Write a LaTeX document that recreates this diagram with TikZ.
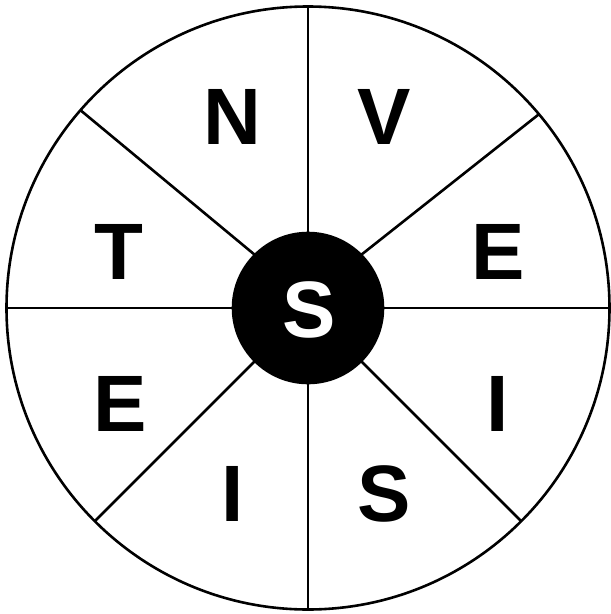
\documentclass[tikz,border=0pt]{standalone}
\usepackage{fontspec}
\setmainfont{Liberation Sans}
\begin{document}
\begin{tikzpicture}[x=1pt,y=-1pt,line width=2.6pt,
  letter/.style={anchor=base,inner sep=0pt,font=\bfseries\fontsize{80}{96}\selectfont},
  ring/.style={circle,draw,outer sep=0pt,inner sep=0pt}]
\useasboundingbox (0,0) rectangle (611,614);
\node[ring,minimum size=603pt] (outer) at (308,308) {};
\node[ring,fill=black,minimum size=150pt] (inner) at (308,308) {};
\draw (inner.90) -- (outer.90);
\draw (inner.270) -- (outer.270);
\draw (inner.0) -- (outer.0);
\draw (inner.180) -- (outer.180);
\draw (inner.45) -- (outer.40.8);
\draw (inner.135) -- (outer.139.3);
\draw (inner.225) -- (outer.225);
\draw (inner.-45) -- (outer.-45);
\node[letter,text=white] (sc) at (308.8,337.5) {S};
\node[letter] (n) at (232.7,144.2) {N};
\node[letter] (v) at (383.9,144.2) {V};
\node[letter] (er) at (498.2,279.8) {E};
\node[letter] (t) at (119.3,279.8) {T};
\node[letter] (el) at (119.8,431) {E};
\node[letter] (ir) at (497.3,431) {I};
\node[letter] (ib) at (232.5,521.4) {I};
\node[letter] (sb) at (384.4,521.4) {S};
\end{tikzpicture}
\end{document}
